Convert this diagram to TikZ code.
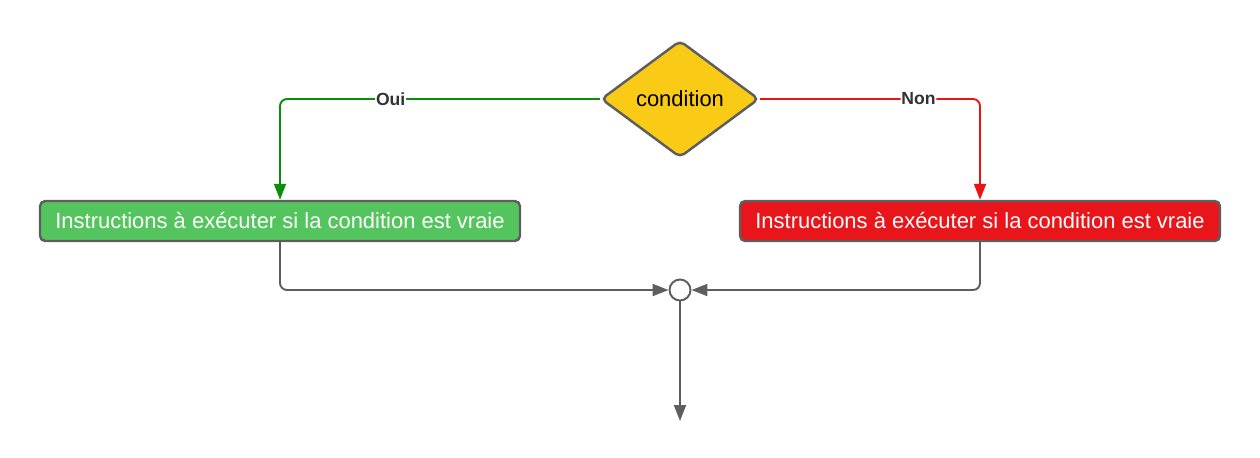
\documentclass[tikz,border=0pt]{standalone}
\usepackage{fontspec}
\setmainfont{Liberation Sans}
\usepackage{xcolor}
\usetikzlibrary{arrows.meta, positioning, calc, shapes.geometric}

\definecolor{jaune}{HTML}{F9CB16}
\definecolor{vert}{HTML}{54C45E}
\definecolor{rouge}{HTML}{E8151A}
\definecolor{gris}{HTML}{5E5E5E}
\definecolor{vertfonce}{HTML}{0A8F0A}
\definecolor{rougevif}{HTML}{EA1414}

\begin{document}
\begin{tikzpicture}[
    font=\fontsize{12.5}{14}\selectfont,
    boite/.style={draw=gris, line width=1.4pt, rounded corners=3pt, minimum height=0.8cm,
                  minimum width=9.6cm, align=center, text=white, inner sep=0pt},
    losange/.style={diamond, draw=gris, fill=jaune, line width=1.4pt, rounded corners=3pt,
                    minimum width=3.16cm, minimum height=2.34cm, aspect=1.35, inner sep=0pt},
    fleche/.style={-{Triangle[length=3.2mm, width=2.4mm]}, line width=1.1pt, rounded corners=4pt},
    etiquette/.style={fill=white, inner sep=0.5pt, text=black!80, font=\fontsize{10}{12}\selectfont\bfseries}
  ]
    \useasboundingbox (0,0) rectangle (25.2,-9.14);

    \node[losange] (cond) at (13.6,-1.98) {condition};
    \node[boite, fill=vert] (vrai) at (5.6,-4.42) {\raisebox{-0.6pt}{Instructions à exécuter si la condition est vraie}};
    \node[boite, fill=rouge] (faux) at (19.6,-4.42) {\raisebox{-0.6pt}{Instructions à exécuter si la condition est vraie}};
    \node[circle, draw=gris, fill=white, line width=1.1pt, minimum size=0.42cm, inner sep=0pt]
      (fusion) at (13.6,-5.8) {};
    \coordinate (fin) at (13.6,-8.42);

    % branches
    \draw[fleche, vertfonce] (cond.west) -| (vrai.north)
      node[etiquette, pos=0.327] {Oui};
    \draw[fleche, rougevif] (cond.east) -| (faux.north)
      node[etiquette, pos=0.36] {Non};

    % retour
    \draw[fleche, gris] (vrai.south) |- (fusion.west);
    \draw[fleche, gris] (faux.south) |- (fusion.east);
    \draw[fleche, gris] (fusion.south) -- (fin);
  \end{tikzpicture}
\end{document}
